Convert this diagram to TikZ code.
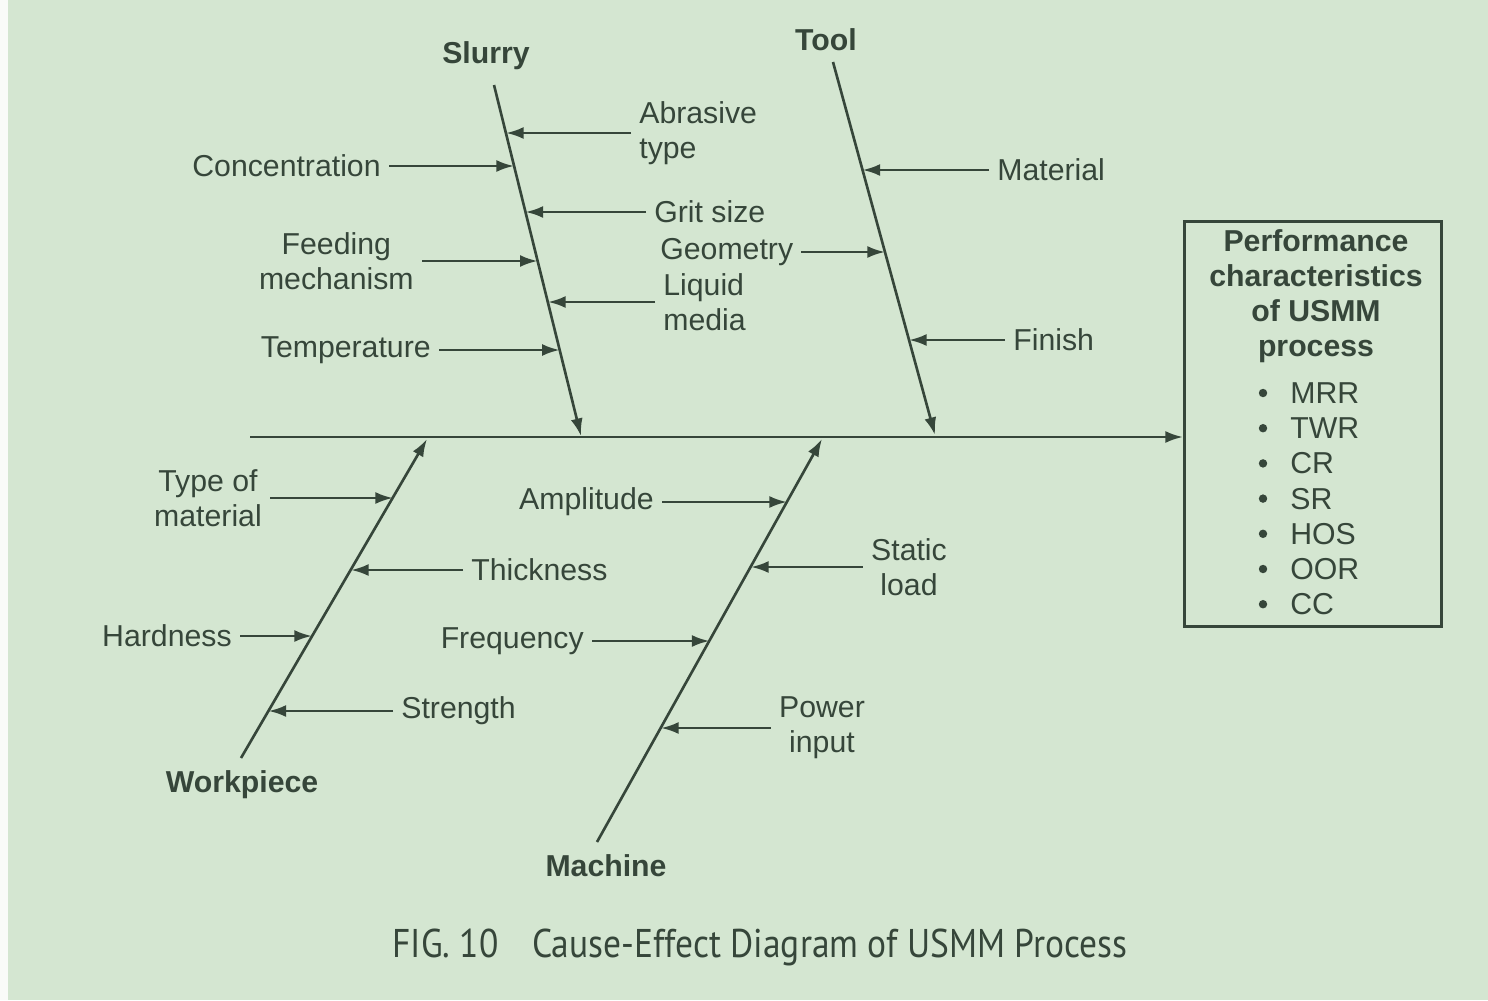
\documentclass[tikz,border=0pt]{standalone}
\usepackage{graphicx}
\usepackage{fontspec}
\setmainfont{Liberation Sans}
\newfontfamily\capfont{PT Sans}
\usetikzlibrary{arrows.meta}
\definecolor{ink}{HTML}{36463A}
\definecolor{paper}{HTML}{D4E6D1}

\begin{document}
\begin{tikzpicture}[x=0.01cm, y=-0.01cm, color=ink, line width=0.75pt,
    font=\fontsize{8.6}{9.9}\selectfont,
    cause/.style={-{Latex[length=5pt,width=3.4pt]}},
    head/.style={font=\fontsize{8.6}{9.9}\selectfont\bfseries},
    lbl/.style={inner sep=2pt}]
    \fill[paper] (0,0) rectangle (1488,1000);
    \fill[white!85!paper] (0,0) rectangle (8,1000);
    \useasboundingbox (0,0) rectangle (1488,1000);

    % effect box and spine
    \node[draw, minimum width=2.57cm, minimum height=4.05cm, anchor=north west] (perf) at (1183,220) {};
    \node[head, align=center] (perfhead) at (1316,296) {Performance\\characteristics\\of USMM\\process};
    \foreach \m [count=\i from 0] in {MRR,TWR,CR,SR,HOS,OOR,CC} {
        \fill (1263,{393+35.2*\i}) circle (1.2pt);
        \node[lbl, anchor=west] (res\i) at (1282,{393+35.2*\i}) {\m};
    }
    \coordinate (tail) at (250,437);
    \draw[cause] (tail) -- (tail -| perf.west);

    % slurry
    \node[head] (slurry) at (486,56) {Slurry};
    \coordinate (s0) at (494,85);
    \coordinate (s1) at (581,436);
    \draw[cause] (s0) -- (s1);
    \node[lbl, anchor=west, align=left] (abr) at (631,133) {Abrasive\\type};
    \node[lbl, anchor=east] (conc) at (389,166) {Concentration};
    \node[lbl, anchor=west] (grit) at (646,212) {Grit size};
    \node[lbl, anchor=east, align=center] (feed) at (422,261) {Feeding\\mechanism};
    \node[lbl, anchor=west, align=left] (liq) at (655,302) {Liquid\\media};
    \node[lbl, anchor=east] (temp) at (439,350) {Temperature};
    \coordinate (sa) at (506,133);
    \coordinate (sb) at (514,166);
    \coordinate (sc) at (525.5,212);
    \coordinate (sd) at (537.6,261);
    \coordinate (se) at (548,302);
    \coordinate (sf) at (559.7,350);
    \draw[cause] (abr.west) -- (sa);
    \draw[cause] (conc.east) -- (sb);
    \draw[cause] (grit.west) -- (sc);
    \draw[cause] (feed.east) -- (sd);
    \draw[cause] (liq.west) -- (se);
    \draw[cause] (temp.east) -- (sf);

    % tool
    \node[head] (tool) at (826,40) {Tool};
    \coordinate (t0) at (833,62);
    \coordinate (t1) at (935,435);
    \draw[cause] (t0) -- (t1);
    \node[lbl, anchor=west] (mat) at (989,170) {Material};
    \node[lbl, anchor=west] (geom) at (652,252) {Geometry};
    \node[lbl, anchor=west] (fin) at (1005,340) {Finish};
    \coordinate (ta) at (862.5,170);
    \coordinate (tb) at (885,252);
    \coordinate (tc) at (909,340);
    \draw[cause] (mat.west) -- (ta);
    \draw[cause] (geom.east) -- (tb);
    \draw[cause] (fin.west) -- (tc);

    % workpiece
    \node[head] (work) at (242,785) {Workpiece};
    \coordinate (w0) at (241,758);
    \coordinate (w1) at (427,439);
    \draw[cause] (w0) -- (w1);
    \node[lbl, align=center] (type) at (208,498) {Type of\\material};
    \node[lbl, anchor=west] (thick) at (463,570) {Thickness};
    \node[lbl, anchor=east] (hard) at (240,636) {Hardness};
    \node[lbl, anchor=west] (str) at (393,711) {Strength};
    \coordinate (wa) at (393,498);
    \coordinate (wb) at (351,570);
    \coordinate (wc) at (312,636);
    \coordinate (wd) at (268.5,711);
    \draw[cause] (type.east) -- (wa);
    \draw[cause] (thick.west) -- (wb);
    \draw[cause] (hard.east) -- (wc);
    \draw[cause] (str.west) -- (wd);

    % machine
    \node[head] (mach) at (606,866) {Machine};
    \coordinate (m0) at (597,842);
    \coordinate (m1) at (822,439);
    \draw[cause] (m0) -- (m1);
    \node[lbl, anchor=east] (amp) at (662,502) {Amplitude};
    \node[lbl, align=center] (load) at (909,567) {Static\\load};
    \node[lbl, anchor=east] (freq) at (592,641) {Frequency};
    \node[lbl, align=center] (pow) at (822,728) {Power\\input};
    \coordinate (ma) at (787,502);
    \coordinate (mb) at (751,567);
    \coordinate (mc) at (709.5,641);
    \coordinate (md) at (661,728);
    \draw[cause] (amp.east) -- (ma);
    \draw[cause] (load.west) -- (mb);
    \draw[cause] (freq.east) -- (mc);
    \draw[cause] (pow.west) -- (md);

    \node (cap) at (760,947) {\capfont\fontsize{11.4}{13}\selectfont\scalebox{0.885}[1]{FIG. 10\hspace{0.95em}Cause-Effect Diagram of USMM Process}};
\end{tikzpicture}
\end{document}
